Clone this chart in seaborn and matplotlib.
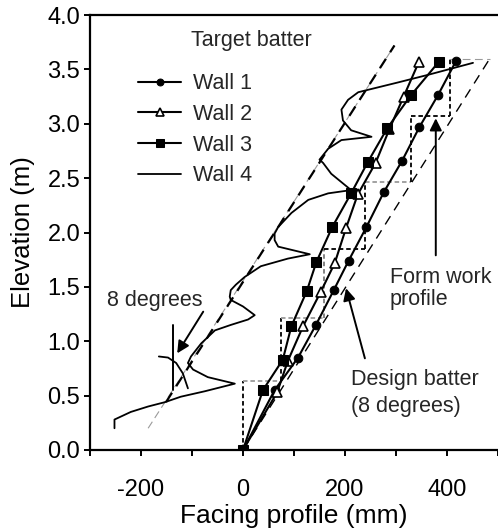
import matplotlib
matplotlib.use("Agg")
import matplotlib.pyplot as plt
import seaborn as sns
from matplotlib.ticker import FixedLocator, FormatStrFormatter

# Measured facing profiles: horizontal offset (mm) against elevation (m)
wall1_elev = [0.0, 0.55, 0.85, 1.15, 1.47, 1.74, 2.05, 2.37, 2.66, 2.97, 3.26, 3.58]
wall1_face = [0, 62, 108, 143, 178, 207, 242, 276, 312, 346, 382, 418]

wall2_elev = [0.0, 0.53, 0.82, 1.14, 1.45, 1.72, 2.04, 2.35, 2.64, 2.95, 3.25, 3.57]
wall2_face = [0, 67, 88, 118, 152, 180, 202, 225, 260, 287, 315, 345]

wall3_elev = [0.0, 0.55, 0.83, 1.14, 1.46, 1.73, 2.05, 2.36, 2.65, 2.96, 3.26, 3.57]
wall3_face = [0, 39, 78, 95, 125, 144, 175, 212, 245, 283, 329, 384]

wall4_elev = [0.20, 0.28, 0.35, 0.40, 0.44, 0.49, 0.54, 0.61, 0.67, 0.74, 0.80,
              0.86, 0.98, 1.10, 1.15, 1.20, 1.24, 1.32, 1.38, 1.41, 1.47, 1.52,
              1.59, 1.69, 1.76, 1.80, 1.87, 1.93, 1.99, 2.05, 2.18, 2.30, 2.36,
              2.39, 2.54, 2.64, 2.67, 2.77, 2.85, 2.88, 2.94, 3.03, 3.13, 3.22,
              3.29, 3.38, 3.45, 3.56]
wall4_face = [-252, -252, -220, -186, -153, -122, -75, -16, -69, -98, -108,
              -102, -82, -55, -24, 10, 23, 0, -24, -26, -24, -14,
              3, 35, 88, 131, 69, 62, 62, 69, 95, 128, 167,
              212, 173, 157, 150, 167, 193, 252, 212, 196, 193, 206,
              226, 304, 363, 451]

# Batter guide lines
target_elev = [0.44, 3.72]
target_face = [-151, 297]
guide_elev = [0.20, 3.72]
guide_face = [-186, 297]
design_elev = [0.0, 3.60]
design_face = [0, 484]
top_elev = [3.60, 3.60]
top_face = [405, 484]

# Form work lifts (staircase corners)
form_face = [0, 0, 75, 75, 158, 158, 239, 239, 330, 330, 405, 405]
form_elev = [0, 0.63, 0.63, 1.21, 1.21, 1.85, 1.85, 2.46, 2.46, 3.07, 3.07, 3.60]
form_colors = ["black", "#9a9a9a", "black", "#9a9a9a", "#7a7a7a", "black",
               "black", "#9a9a9a", "black", "black", "black"]

# 8 degree angle marker
angle_face = [-137, -137]
angle_elev = [0.55, 1.15]
arc_face = [-165, -147, -131, -118, -108]
arc_elev = [0.86, 0.85, 0.80, 0.705, 0.567]

x_major = [-200, 0, 200, 400]
x_minor = [-300, -100, 100, 300, 500]
y_ticks = [0.0, 0.5, 1.0, 1.5, 2.0, 2.5, 3.0, 3.5, 4.0]

sns.set_theme(style="ticks")
plt.rcParams["font.family"] = ["Liberation Sans", "DejaVu Sans"]
plt.rcParams["axes.unicode_minus"] = False

fig = plt.figure(figsize=(4.98, 5.32), dpi=100)
ax = fig.add_axes([90 / 498, 82 / 532, 408 / 498, 435 / 532])

# guide lines underneath the measured profiles
ax.plot(guide_face, guide_elev, color="#9a9a9a", lw=0.8, dashes=(7, 4))
ax.plot(target_face, target_elev, color="black", lw=1.6, dashes=(5, 3.5))
ax.plot(design_face, design_elev, color="black", lw=1.0, dashes=(7, 5))
ax.plot(top_face, top_elev, color="#9a9a9a", lw=0.8, dashes=(7, 4))
for i in range(len(form_face) - 1):
    ax.plot(form_face[i:i + 2], form_elev[i:i + 2], color=form_colors[i],
            lw=1.3, dashes=(2.5, 1.6))

sns.lineplot(x=wall1_face, y=wall1_elev, sort=False, estimator=None, ax=ax,
             color="black", lw=1.5, marker="o", markersize=6.2,
             markerfacecolor="black", markeredgecolor="black", label="Wall 1")
sns.lineplot(x=wall2_face, y=wall2_elev, sort=False, estimator=None, ax=ax,
             color="black", lw=1.5, marker="^", markersize=7.2,
             markerfacecolor="white", markeredgecolor="black",
             markeredgewidth=1.2, label="Wall 2")
sns.lineplot(x=wall3_face, y=wall3_elev, sort=False, estimator=None, ax=ax,
             color="black", lw=1.5, marker="s", markersize=7.2,
             markerfacecolor="black", markeredgecolor="black", label="Wall 3")
sns.lineplot(x=wall4_face, y=wall4_elev, sort=False, estimator=None, ax=ax,
             color="black", lw=1.3, label="Wall 4")

# angle marker for the target batter
ax.plot(angle_face, angle_elev, color="black", lw=1.4)
ax.plot(arc_face, arc_elev, color="black", lw=1.3)

ax.set_xlim(-300, 500)
ax.set_ylim(0, 4.0)
ax.xaxis.set_major_locator(FixedLocator(x_major))
ax.xaxis.set_minor_locator(FixedLocator(x_minor))
ax.yaxis.set_major_locator(FixedLocator(y_ticks))
ax.yaxis.set_major_formatter(FormatStrFormatter("%.1f"))

for side in ["left", "bottom", "top"]:
    ax.spines[side].set_linewidth(1.6)
    ax.spines[side].set_color("black")
ax.spines["right"].set_visible(False)

ax.tick_params(axis="both", which="both", direction="out", length=4,
               width=1.4, color="black", labelcolor="black", labelsize=17)
ax.tick_params(axis="x", which="major", pad=17)
ax.tick_params(axis="y", which="major", pad=3)

ax.set_xlabel("Facing profile (mm)", fontsize=19, labelpad=2, color="black")
ax.set_ylabel("Elevation (m)", fontsize=18.5, color="black")
ax.yaxis.set_label_coords(-0.135, 0.5)

handles, labels = ax.get_legend_handles_labels()
ax.legend(handles, labels, loc="upper left", bbox_to_anchor=(0.118, 0.866),
          frameon=False, fontsize=15.5, handlelength=2.0, handletextpad=0.55,
          labelspacing=0.45, borderpad=0, borderaxespad=0, markerscale=0.8)

ax.text(-102, 3.715, "Target batter", fontsize=15.5, ha="left", va="baseline")
ax.text(-267, 1.324, "8 degrees", fontsize=15.5, ha="left", va="baseline")
ax.text(288, 1.536, "Form work", fontsize=15.5, ha="left", va="baseline")
ax.text(288, 1.333, "profile", fontsize=15.5, ha="left", va="baseline")
ax.text(212, 0.598, "Design batter", fontsize=15.5, ha="left", va="baseline")
ax.text(212, 0.349, "(8 degrees)", fontsize=15.5, ha="left", va="baseline")

arrow = dict(arrowstyle="-|>", color="black", lw=1.4, mutation_scale=18,
             shrinkA=0, shrinkB=0)
ax.annotate("", xy=(378, 3.05), xytext=(378, 1.79), arrowprops=arrow)
ax.annotate("", xy=(202, 1.487), xytext=(239, 0.843), arrowprops=arrow)
ax.annotate("", xy=(-129, 0.889), xytext=(-78, 1.272), arrowprops=arrow)

fig.savefig("out.png", dpi=100)
